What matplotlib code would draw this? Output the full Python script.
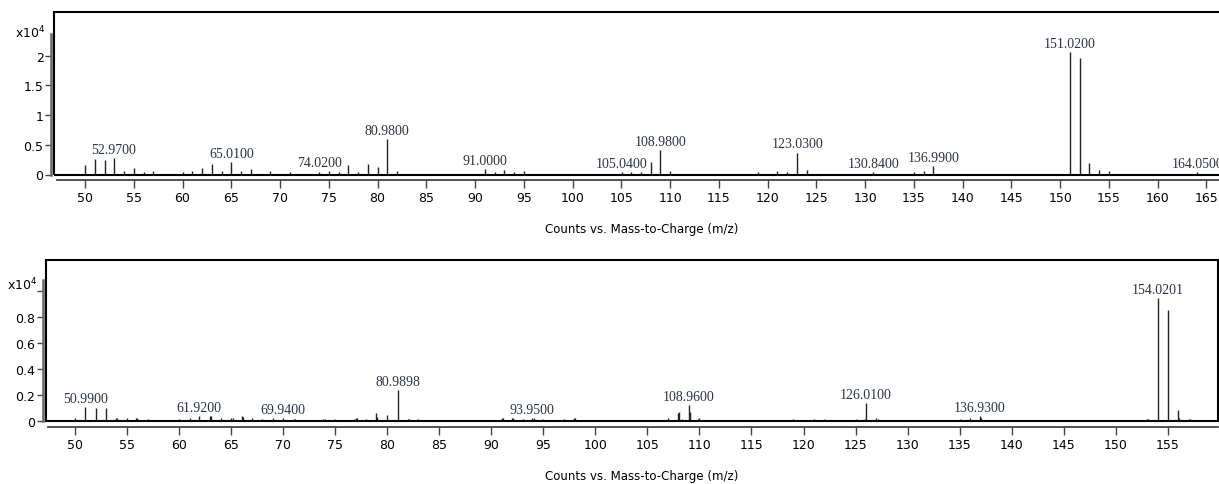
import numpy as np
import matplotlib
matplotlib.use('Agg')
import matplotlib.pyplot as plt
from matplotlib.patches import Rectangle

# Top spectrum (counts x10^4)
top_mz = [50.0, 51.0, 52.0, 52.97, 54.0, 55.0, 56.0, 57.0, 60.0, 61.0, 62.0, 63.0, 64.0, 65.01,
          66.0, 67.0, 69.0, 71.0, 74.02, 75.0, 76.0, 77.0, 78.0, 79.0, 80.0, 80.98, 82.0,
          91.0, 92.0, 93.0, 94.0, 95.0, 105.04, 106.0, 107.0, 108.0, 108.98, 110.0,
          119.0, 121.0, 122.0, 123.03, 124.0, 130.84, 135.0, 136.0, 136.99,
          151.02, 152.02, 153.0, 154.0, 155.0, 164.05]
top_int = [0.163, 0.253, 0.236, 0.281, 0.062, 0.112, 0.05, 0.062, 0.05, 0.062, 0.112, 0.185, 0.062, 0.202,
           0.062, 0.095, 0.06, 0.05, 0.05, 0.067, 0.05, 0.163, 0.05, 0.18, 0.13, 0.60, 0.06,
           0.095, 0.045, 0.08, 0.045, 0.06, 0.045, 0.045, 0.045, 0.208, 0.416, 0.06,
           0.045, 0.06, 0.05, 0.37, 0.08, 0.045, 0.045, 0.06, 0.146,
           2.06, 1.966, 0.2, 0.084, 0.06, 0.045]
top_labels = [52.97, 65.01, 74.02, 80.98, 91.0, 105.04, 108.98, 123.03, 130.84, 136.99, 151.02, 164.05]

# Bottom spectrum (counts x10^4)
bot_mz = [50.0, 50.99, 52.0, 53.0, 53.9, 54.0, 55.0, 55.9, 56.0, 57.0, 60.0, 61.0, 61.92, 63.0, 63.1,
          64.0, 65.0, 65.2, 66.0, 66.1, 67.0, 68.0, 69.0, 69.94, 71.0, 71.1, 73.8, 74.0, 75.0,
          76.8, 77.0, 77.1, 78.0, 78.9, 79.0, 80.0, 80.9898, 82.0, 82.1, 83.0,
          91.0, 91.1, 92.0, 92.1, 93.0, 93.95, 94.1, 95.0, 97.0, 97.9, 98.0,
          107.0, 107.9, 108.0, 108.3, 108.96, 109.05, 109.9, 110.0, 119.0,
          121.0, 122.0, 125.0, 125.9, 126.01, 127.0, 127.2, 135.0, 136.0, 136.93, 137.1,
          153.0, 153.1, 154.0201, 155.02, 156.0, 156.1, 157.0, 157.1]
bot_int = [0.023, 0.105, 0.10, 0.10, 0.018, 0.018, 0.02, 0.018, 0.018, 0.013, 0.013, 0.02, 0.036, 0.033, 0.033,
           0.018, 0.018, 0.018, 0.033, 0.028, 0.02, 0.01, 0.018, 0.023, 0.015, 0.015, 0.015, 0.015, 0.015,
           0.015, 0.023, 0.018, 0.013, 0.062, 0.03, 0.046, 0.233, 0.015, 0.015, 0.01,
           0.018, 0.018, 0.018, 0.018, 0.013, 0.023, 0.018, 0.013, 0.013, 0.023, 0.023,
           0.018, 0.06, 0.07, 0.013, 0.123, 0.067, 0.013, 0.02, 0.013,
           0.013, 0.015, 0.013, 0.013, 0.136, 0.023, 0.015, 0.013, 0.018, 0.036, 0.023,
           0.013, 0.013, 0.941, 0.854, 0.082, 0.018, 0.013, 0.013]
bot_labels = [50.99, 61.92, 69.94, 80.9898, 93.95, 108.96, 126.01, 136.93, 154.0201]

W, H = 1219, 485
fig = plt.figure(figsize=(W / 100, H / 100), dpi=100)

def px(x0, y0, x1, y1):
    # figure fraction box from pixel corners
    return [x0 / W, 1 - y1 / H, (x1 - x0) / W, (y1 - y0) / H]

def spectrum(ax, mz, inten, labels, xlim, ylim, yaxis_top, yticks, yticklabels, xstart):
    ax.vlines(mz, 0, inten, colors='#222222', lw=1.0)
    lookup = dict(zip(mz, inten))
    for m in labels:
        ax.annotate(f'{m:.4f}', (m, lookup[m]), xytext=(0, 1.5), textcoords='offset points',
                    ha='center', va='bottom', fontsize=10, family='Liberation Serif',
                    color='#2a3444')
    ax.set_xlim(*xlim)
    ax.set_ylim(*ylim)
    ax.add_patch(Rectangle((0, 0), 1, 1, transform=ax.transAxes, fill=False,
                           lw=1.5, ec='black', clip_on=False, zorder=5))
    ax.spines['top'].set_visible(False)
    ax.spines['right'].set_visible(False)
    ax.spines['left'].set_position(('outward', 2.2))
    ax.spines['left'].set_bounds(0, yaxis_top)
    ax.spines['left'].set_color('#666666')
    ax.spines['left'].set_linewidth(1.8)
    ax.spines['bottom'].set_position(('outward', 4.3))
    ax.spines['bottom'].set_bounds(xstart, xlim[1])
    ax.spines['bottom'].set_color('#333333')
    ax.spines['bottom'].set_linewidth(1.2)
    ax.set_xticks(np.arange(50, xlim[1], 5))
    ax.set_yticks(yticks)
    ax.set_yticklabels(yticklabels)
    ax.tick_params(axis='x', direction='out', length=5.8, width=1, color='#444444',
                   labelsize=9, pad=2)
    ax.tick_params(axis='y', direction='out', length=4.3, width=1, color='#444444',
                   labelsize=9, pad=1)

ax1 = fig.add_axes(px(54, 13.3, 1226, 175.5))
spectrum(ax1, top_mz, top_int, top_labels, (46.82, 167.0), (0, 2.73), 2.36,
         [0, 0.5, 1, 1.5, 2], ['0', '0.5', '1', '1.5', '2'], 47.1)

ax2 = fig.add_axes(px(45.7, 260.7, 1218, 421.7))
spectrum(ax2, bot_mz, bot_int, bot_labels, (47.18, 159.83), (0, 1.238), 1.08,
         [0, 0.2, 0.4, 0.6, 0.8, 1.0], ['0', '0.2', '0.4', '0.6', '0.8', ''], 47.43)

fig.text(15 / W, 1 - 33 / H, r'x10$^4$', fontsize=9, va='center', ha='left')
fig.text(7 / W, 1 - 285 / H, r'x10$^4$', fontsize=9, va='center', ha='left')

fig.text(642 / W, 1 - 230 / H, 'Counts vs. Mass-to-Charge (m/z)', fontsize=8.5,
         ha='center', va='center')
fig.text(642 / W, 1 - 477 / H, 'Counts vs. Mass-to-Charge (m/z)', fontsize=8.5,
         ha='center', va='center')

fig.savefig('out.png', dpi=100)
